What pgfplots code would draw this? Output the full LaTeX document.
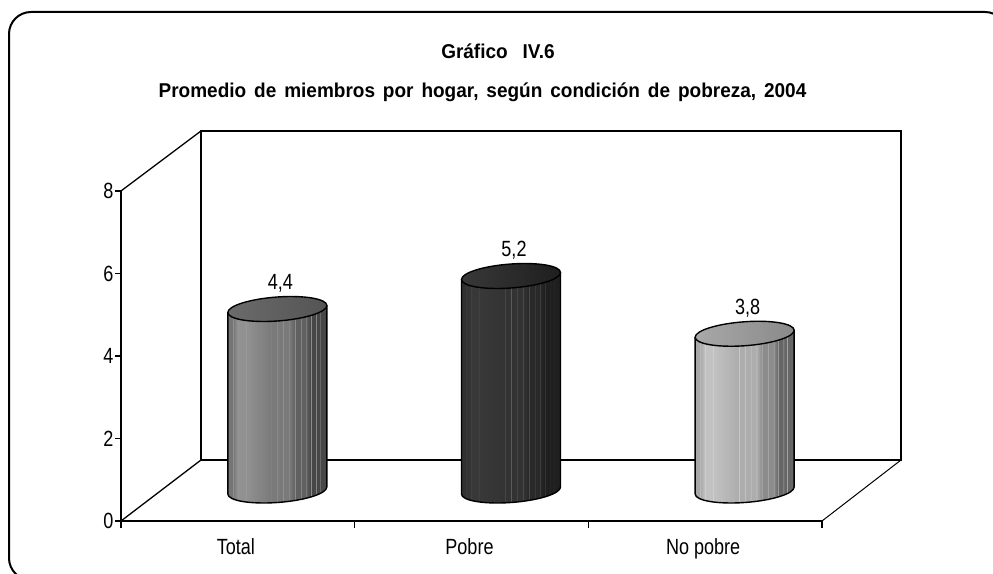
\documentclass[border=0pt]{standalone}
\usepackage{pgfplots}
\pgfplotsset{compat=1.18}
\usepackage{fontspec}
\setmainfont[FakeStretch=0.82]{Liberation Sans}
\newfontfamily\titlefont[FakeStretch=0.95,BoldFeatures={FakeStretch=0.95},WordSpace=1.5]{Liberation Sans}
\newcommand\cylshading[7]{%
\definecolor{#1a}{gray}{#2}\definecolor{#1b}{gray}{#3}\definecolor{#1c}{gray}{#4}%
\definecolor{#1d}{gray}{#5}\definecolor{#1e}{gray}{#6}\definecolor{#1s}{gray}{#7}%
\pgfdeclarehorizontalshading{#1}{100bp}{
 color(0bp)=(#1a); color(25bp)=(#1a);
 color(27.3bp)=(#1a); color(27.5bp)=(#1s); color(27.7bp)=(#1a);
 color(29.8bp)=(#1b); color(30bp)=(#1s); color(30.2bp)=(#1b);
 color(33.8bp)=(#1b); color(34bp)=(#1s); color(34.2bp)=(#1b);
 color(46.8bp)=(#1c); color(47bp)=(#1s); color(47.2bp)=(#1c);
 color(49.8bp)=(#1c); color(50bp)=(#1s); color(50.2bp)=(#1c);
 color(52.8bp)=(#1c); color(53bp)=(#1s); color(53.2bp)=(#1c);
 color(55.8bp)=(#1c); color(56bp)=(#1s); color(56.2bp)=(#1c);
 color(58.8bp)=(#1d); color(59bp)=(#1s); color(59.2bp)=(#1d);
 color(61.8bp)=(#1d); color(62bp)=(#1s); color(62.2bp)=(#1d);
 color(64.3bp)=(#1d); color(64.5bp)=(#1s); color(64.7bp)=(#1d);
 color(66.8bp)=(#1e); color(67bp)=(#1s); color(67.2bp)=(#1e);
 color(69.3bp)=(#1e); color(69.5bp)=(#1s); color(69.7bp)=(#1e);
 color(71.3bp)=(#1e); color(71.5bp)=(#1s); color(71.7bp)=(#1e);
 color(75bp)=(#1e); color(100bp)=(#1e)}}
% grey levels: left edge, light band, middle, right of middle, right edge, seam
\cylshading{cylA}{0.46}{0.57}{0.48}{0.38}{0.28}{0.65}
\cylshading{cylB}{0.19}{0.22}{0.20}{0.16}{0.12}{0.36}
\cylshading{cylC}{0.66}{0.76}{0.68}{0.55}{0.40}{0.86}
\definecolor{capAl}{gray}{0.42}\definecolor{capAr}{gray}{0.33}
\definecolor{capCl}{gray}{0.66}\definecolor{capCr}{gray}{0.54}
\pgfdeclarehorizontalshading{capA}{100bp}{color(0bp)=(capAl); color(25bp)=(capAl); color(75bp)=(capAr); color(100bp)=(capAr)}
\pgfdeclarehorizontalshading{capB}{100bp}{color(0bp)=(cylBb); color(25bp)=(cylBb); color(75bp)=(cylBe); color(100bp)=(cylBe)}
\pgfdeclarehorizontalshading{capC}{100bp}{color(0bp)=(capCl); color(25bp)=(capCl); color(75bp)=(capCr); color(100bp)=(capCr)}
\newcommand\cylmark[3]{%
\pgfdeclareplotmark{#1}{%
 \pgfscope
 \pgfgettransformentries\cylma\cylmb\cylmc\cylmd\cyltx\cylty
 \pgftransformreset
 \pgflowlevel{\pgftransformcm{1}{0.07}{0}{1}{\pgfpointadd{\pgfpoint{\cyltx}{\cylty}}{\pgfpoint{39.5pt}{30.5pt}}}}%
 \begin{scope}[x=1pt,y=1pt,black,line width=1.4pt,solid]
  \path[shade,shading=#2,draw=black,line join=round] (-49.5,0) -- (-49.5,-\cylh)
    arc[start angle=180,end angle=360,x radius=49.5,y radius=12] -- (49.5,0) -- cycle;
  \path[shade,shading=#3,draw=black] (0,0) ellipse[x radius=49.5,y radius=12];
 \end{scope}
 \endpgfscope}}
\cylmark{cylmarkA}{cylA}{capA}
\cylmark{cylmarkB}{cylB}{capB}
\cylmark{cylmarkC}{cylC}{capC}
\pgfplotstableread{
x v
0.5 4.4
1.5 5.2
2.5 3.8
}\datatable
\begin{document}
\begin{tikzpicture}[x=1pt,y=1pt]
\useasboundingbox (0,0) rectangle (993,573);
\begin{scope}
\clip (0,0) rectangle (993,573);
\draw[line width=2pt,rounded corners=22pt] (9,-7) rectangle (1007,561);
\end{scope}
\node[font=\titlefont\bfseries\fontsize{20}{22}\selectfont] at (498,522) {Gráfico\hspace{7pt} IV.6};
\node[font=\titlefont\bfseries\fontsize{20}{22}\selectfont] at (482.5,481) {Promedio de miembros por hogar, según condición de pobreza, 2004};
% walls and floor
\draw[line width=1.3pt] (201,113) rectangle (901,442);
\draw[line width=1.3pt] (121,382) -- (201,442);
\draw[line width=1.3pt] (121,52) -- (201,113);
\draw[line width=1pt] (822,52) -- (901,113);
\begin{axis}[
 at={(121pt,52pt)},anchor=origin,scale only axis,width=701pt,height=330pt,
 xmin=0,xmax=3,ymin=0,ymax=8,clip=false,
 axis y line=left,axis x line=bottom,axis line style={-,line width=1.4pt},
 xtick={0.5,1.5,2.5},xticklabels={Total,Pobre,No pobre},
 minor xtick={0,1,2,3},
 ytick={0,2,4,6,8},
 major x tick style={draw=none},
 minor tick length=7pt,major tick length=6pt,
 tick align=outside,
 every tick/.style={black,line width=1.2pt},
 minor tick style={black,line width=1.2pt},
 tick label style={font=\fontsize{22}{24}\selectfont},
 /pgf/number format/assume math mode=true,
 xticklabel style={yshift=-8pt,xshift=-2pt},
 yticklabel style={xshift=2pt},
 visualization depends on={rawy*41.25 \as \cylh},
]
\addplot[scatter,only marks,point meta=y,mark=cylmarkA] coordinates {(0.5,4.4)};
\addplot[scatter,only marks,point meta=y,mark=cylmarkB] coordinates {(1.5,5.2)};
\addplot[scatter,only marks,point meta=y,mark=cylmarkC] coordinates {(2.5,3.8)};
\addplot[draw=none,mark=none,
 nodes near coords,
 nodes near coords style={anchor=center,xshift=42.5pt,yshift=56pt,font=\fontsize{22}{24}\selectfont,
   /pgf/number format/.cd,fixed,fixed zerofill,precision=1,use comma,assume math mode=true},
] table[x=x,y=v] {\datatable};
\end{axis}
\end{tikzpicture}
\end{document}
